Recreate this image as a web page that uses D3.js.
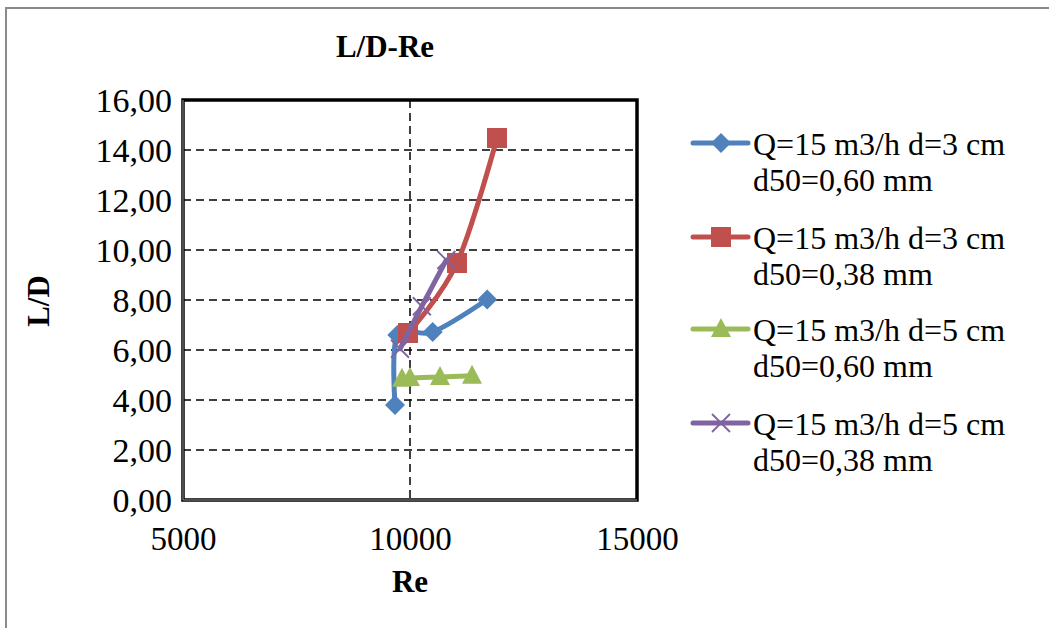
<!DOCTYPE html>
<html>
<head>
<meta charset="utf-8">
<script src="https://cdn.jsdelivr.net/npm/d3@7"></script>
<style>
  html, body { margin: 0; padding: 0; background: #fff; }
  svg { display: block; font-family: "Liberation Serif", "Times New Roman", serif; }
</style>
</head>
<body>
<svg id="chart" width="1049" height="628"></svg>
<script>
// L/D versus Reynolds number for four test configurations
const seriesNames = [
  ["Q=15 m3/h d=3 cm", "d50=0,60 mm"],
  ["Q=15 m3/h d=3 cm", "d50=0,38 mm"],
  ["Q=15 m3/h d=5 cm", "d50=0,60 mm"],
  ["Q=15 m3/h d=5 cm", "d50=0,38 mm"]
];
const seriesColors = ["#4F81BD", "#C0504D", "#9BBB59", "#8064A2"];
const seriesMarkers = ["diamond", "square", "triangle", "cross"];

const reBlue   = [9670, 9720, 10500, 11700];
const ldBlue   = [3.80, 6.60, 6.72, 8.02];
const reRed    = [9956, 11035, 11916];
const ldRed    = [6.68, 9.48, 14.48];
const reGreen  = [9824, 10000, 10661, 11366];
const ldGreen  = [4.85, 4.88, 4.92, 4.97];
const rePurple = [9780, 10260, 10800];
const ldPurple = [6.05, 7.75, 9.60];

const xTicks = [5000, 10000, 15000];
const yTicks = [0, 2, 4, 6, 8, 10, 12, 14, 16];

const seriesRe = [reBlue, reRed, reGreen, rePurple];
const seriesLd = [ldBlue, ldRed, ldGreen, ldPurple];

const svg = d3.select("#chart");

// outer chart frame
svg.append("rect")
  .attr("x", 6).attr("y", 8).attr("width", 1100).attr("height", 700)
  .attr("fill", "none").attr("stroke", "#8a8a8a").attr("stroke-width", 2);

const plot = { left: 183, right: 637, top: 100, bottom: 500 };
const x = d3.scaleLinear().domain([5000, 15000]).range([plot.left, plot.right]);
const y = d3.scaleLinear().domain([0, 16]).range([plot.bottom, plot.top]);

// dashed grid
svg.append("g").selectAll("line")
  .data(yTicks.filter(v => v > 0 && v < 16)).join("line")
  .attr("x1", plot.left).attr("x2", plot.right)
  .attr("y1", d => y(d)).attr("y2", d => y(d))
  .attr("stroke", "#000").attr("stroke-width", 1.5).attr("stroke-dasharray", "8,5");
svg.append("g").selectAll("line")
  .data(xTicks.filter(v => v > 5000 && v < 15000)).join("line")
  .attr("y1", plot.top).attr("y2", plot.bottom)
  .attr("x1", d => x(d)).attr("x2", d => x(d))
  .attr("stroke", "#000").attr("stroke-width", 1.5).attr("stroke-dasharray", "8,5");

// plot frame
svg.append("rect")
  .attr("x", plot.left).attr("y", plot.top)
  .attr("width", plot.right - plot.left).attr("height", plot.bottom - plot.top)
  .attr("fill", "none").attr("stroke", "#000").attr("stroke-width", 3.5);
svg.append("path")
  .attr("d", `M${plot.left},${plot.top}V${plot.bottom}H${plot.right}`)
  .attr("fill", "none").attr("stroke", "#9a9a9a").attr("stroke-width", 1);

// axes (labels only, no tick marks)
const fmt = v => d3.format(".2f")(v).replace(".", ",");
const yAxis = svg.append("g")
  .attr("transform", `translate(${plot.left - 11},0)`)
  .call(d3.axisLeft(y).tickValues(yTicks).tickFormat(fmt).tickSize(0).tickPadding(0));
yAxis.select(".domain").remove();
yAxis.selectAll("text")
  .attr("font-family", "Liberation Serif").attr("font-size", 34).attr("fill", "#000")
  .attr("dy", "0.33em");

const xAxis = svg.append("g")
  .attr("transform", `translate(0,${plot.bottom})`)
  .call(d3.axisBottom(x).tickValues(xTicks).tickFormat(d3.format("d")).tickSize(0).tickPadding(0));
xAxis.select(".domain").remove();
xAxis.selectAll("text")
  .attr("font-family", "Liberation Serif").attr("font-size", 33).attr("fill", "#000")
  .attr("dy", null).attr("y", 50);

// titles
svg.append("text").attr("x", 385).attr("y", 57).attr("text-anchor", "middle")
  .attr("font-size", 31).attr("font-weight", "bold").text("L/D-Re");
svg.append("text").attr("x", 410).attr("y", 592).attr("text-anchor", "middle")
  .attr("font-size", 31).attr("font-weight", "bold").text("Re");
svg.append("text").attr("transform", "translate(49,301) rotate(-90)").attr("text-anchor", "middle")
  .attr("font-size", 31).attr("font-weight", "bold").text("L/D");

// marker drawing
function drawMarker(g, kind, color) {
  if (kind === "diamond") {
    g.append("path").attr("d", "M0,-10L10,0L0,10L-10,0Z").attr("fill", color);
  } else if (kind === "square") {
    g.append("rect").attr("x", -10).attr("y", -10).attr("width", 20).attr("height", 20)
      .attr("fill", color);
  } else if (kind === "triangle") {
    g.append("path").attr("d", "M0,-11L10,8L-10,8Z").attr("fill", color);
  } else {
    g.append("path").attr("d", "M-9,-9L9,9M-9,9L9,-9")
      .attr("stroke", color).attr("stroke-width", 1.8).attr("fill", "none");
  }
}

const line = d3.line().curve(d3.curveCardinal.tension(0));

seriesRe.forEach((res, i) => {
  const pts = res.map((r, j) => [x(r), y(seriesLd[i][j])]);
  const g = svg.append("g");
  g.append("path").attr("d", line(pts))
    .attr("fill", "none").attr("stroke", seriesColors[i]).attr("stroke-width", 5)
    .attr("stroke-linecap", "round").attr("stroke-linejoin", "round");
  pts.forEach(p => drawMarker(g.append("g").attr("transform", `translate(${p[0]},${p[1]})`),
    seriesMarkers[i], seriesColors[i]));
});

// legend
const legendTop = [143, 237, 329, 423];
seriesNames.forEach((lines, i) => {
  const g = svg.append("g").attr("transform", `translate(0,${legendTop[i]})`);
  g.append("line").attr("x1", 693).attr("x2", 748).attr("y1", 0).attr("y2", 0)
    .attr("stroke", seriesColors[i]).attr("stroke-width", 5).attr("stroke-linecap", "round");
  drawMarker(g.append("g").attr("transform", "translate(721,0)"), seriesMarkers[i], seriesColors[i]);
  lines.forEach((t, k) => {
    g.append("text").attr("x", 753).attr("y", 12 + k * 36)
      .attr("font-size", 32).attr("fill", "#000").text(t);
  });
});
</script>
</body>
</html>
